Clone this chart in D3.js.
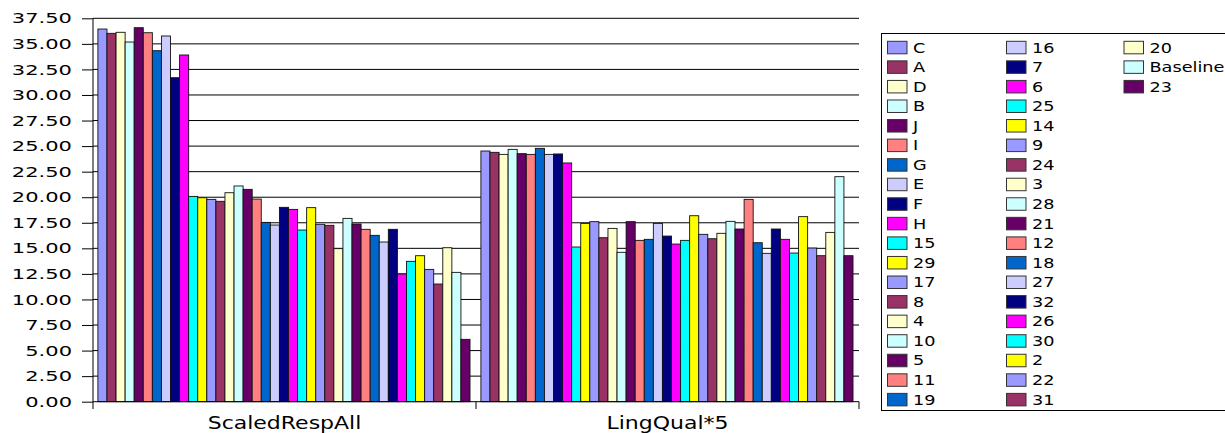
<!DOCTYPE html>
<html>
<head>
<meta charset="utf-8">
<script src="https://cdn.jsdelivr.net/npm/d3@7"></script>
<style>
  html, body { margin: 0; padding: 0; background: #fff; }
  svg { display: block; }
  text { font-family: "DejaVu Sans", Verdana, sans-serif; fill: #000; }
</style>
</head>
<body>
<svg id="chart" width="1225" height="433"></svg>
<script>
// Categories on the x axis
const categories = ["ScaledRespAll", "LingQual*5"];

// One series per system / rater
const seriesNames = [
  "C", "A", "D", "B", "J", "I", "G", "E", "F", "H",
  "15", "29", "17", "8", "4", "10", "5", "11", "19",
  "16", "7", "6", "25", "14", "9", "24", "3", "28", "21",
  "12", "18", "27", "32", "26", "30", "2", "22", "31",
  "20", "Baseline", "23"
];

// Values for the ScaledRespAll category, in series order
const scaledRespAll = [
  36.45, 36.03, 36.13, 35.18, 36.58, 36.09, 34.33, 35.77, 31.69, 33.91,
  20.08, 19.95, 19.79, 19.60, 20.44, 21.10, 20.77, 19.82, 17.54,
  17.28, 19.01, 18.81, 16.79, 18.98, 17.35, 17.25, 14.97, 17.93, 17.38,
  16.86, 16.27, 15.62, 16.86, 12.49, 13.73, 14.28, 12.94, 11.51,
  15.06, 12.65, 6.10
];

// Values for the LingQual*5 category, in series order
const lingQual5 = [
  24.52, 24.39, 24.19, 24.68, 24.26, 24.19, 24.78, 24.19, 24.23, 23.35,
  15.13, 17.44, 17.61, 16.04, 16.95, 14.61, 17.61, 15.78, 15.88,
  17.44, 16.20, 15.42, 15.78, 18.19, 16.37, 15.94, 16.47, 17.64, 16.89,
  19.79, 15.55, 14.51, 16.89, 15.88, 14.54, 18.10, 15.03, 14.28,
  16.56, 22.01, 14.28
];

// Y axis tick values
const yTicks = [0, 2.5, 5, 7.5, 10, 12.5, 15, 17.5, 20, 22.5, 25, 27.5, 30, 32.5, 35, 37.5];

// Fill colours, cycled through the series
const palette = [
  "#9999FF", "#993366", "#FFFFCC", "#CCFFFF", "#660066", "#FF8080",
  "#0066CC", "#CCCCFF", "#000080", "#FF00FF", "#00FFFF", "#FFFF00"
];

const valuesByCategory = [scaledRespAll, lingQual5];
const table = categories.map((c, ci) => ({
  category: c,
  values: seriesNames.map((s, si) => ({ series: s, value: valuesByCategory[ci][si] }))
}));

const svg = d3.select("#chart");
const plot = { left: 93, right: 859, top: 18.3, bottom: 401.7 };

const x0 = d3.scaleBand().domain(categories).range([plot.left, plot.right]).padding(0);
const x1 = d3.scaleBand().domain(seriesNames).range([0, x0.bandwidth()])
  .paddingInner(0).paddingOuter(0.6).align(0.45);
const y = d3.scaleLinear().domain([0, 37.5]).range([plot.bottom, plot.top]);
const color = d3.scaleOrdinal().domain(seriesNames)
  .range(seriesNames.map((s, i) => palette[i % palette.length]));

// Horizontal gridlines
svg.append("g")
  .selectAll("line")
  .data(yTicks.filter(t => t > 0))
  .join("line")
  .attr("x1", plot.left).attr("x2", plot.right)
  .attr("y1", d => y(d)).attr("y2", d => y(d))
  .attr("stroke", "#000").attr("stroke-width", 1);

// Bars
const groups = svg.append("g")
  .selectAll("g")
  .data(table)
  .join("g")
  .attr("transform", d => `translate(${x0(d.category)},0)`);

groups.selectAll("rect")
  .data(d => d.values)
  .join("rect")
  .attr("x", d => x1(d.series))
  .attr("width", x1.bandwidth())
  .attr("y", d => y(d.value))
  .attr("height", d => y(0) - y(d.value))
  .attr("fill", d => color(d.series))
  .attr("stroke", "#111")
  .attr("stroke-width", 0.9);

// Y axis
const yAxis = d3.axisLeft(y)
  .tickValues(yTicks)
  .tickFormat(d3.format(".2f"))
  .tickSize(11)
  .tickPadding(10);
const yg = svg.append("g")
  .attr("transform", `translate(${plot.left},0)`)
  .call(yAxis);
yg.select(".domain").remove();
yg.selectAll(".tick line").attr("stroke", "#000");
yg.selectAll(".tick text")
  .attr("x", 0)
  .attr("font-size", 14.5)
  .attr("transform", "translate(-21,0) scale(1.45,1)")
  .style("font-family", "'DejaVu Sans', sans-serif");
svg.append("line")
  .attr("x1", plot.left).attr("x2", plot.left)
  .attr("y1", plot.top).attr("y2", 409)
  .attr("stroke", "#000");

// X axis baseline and category separators
svg.append("line")
  .attr("x1", plot.left).attr("x2", plot.right)
  .attr("y1", plot.bottom).attr("y2", plot.bottom)
  .attr("stroke", "#000");
const edges = categories.map(c => x0(c)).concat([plot.right]);
svg.append("g").selectAll("line")
  .data(edges.slice(1))
  .join("line")
  .attr("x1", d => d).attr("x2", d => d)
  .attr("y1", plot.bottom).attr("y2", 409)
  .attr("stroke", "#000");

// Category labels
svg.append("g").selectAll("text")
  .data(categories)
  .join("text")
  .attr("transform", d => `translate(${x0(d) + x0.bandwidth() / 2},429) scale(1.31,1)`)
  .attr("text-anchor", "middle")
  .attr("font-size", 16.8)
  .text(d => d);

// Legend
const legend = svg.append("g");
legend.append("rect")
  .attr("x", 881.5).attr("y", 33.5)
  .attr("width", 400).attr("height", 377)
  .attr("fill", "#fff")
  .attr("stroke", "#000").attr("stroke-width", 1);

const rowsPerCol = 19;
const colX = [887, 1006, 1123.5];
const rowY0 = 47.3, rowStep = 19.56;
const items = legend.selectAll("g.item")
  .data(seriesNames)
  .join("g")
  .attr("class", "item")
  .attr("transform", (d, i) =>
    `translate(${colX[Math.floor(i / rowsPerCol)]},${rowY0 + (i % rowsPerCol) * rowStep})`);
items.append("rect")
  .attr("x", 0.5).attr("y", -6)
  .attr("width", 19.5).attr("height", 12.5)
  .attr("fill", d => color(d))
  .attr("stroke", "#333").attr("stroke-width", 1);
items.append("text")
  .attr("transform", "translate(26,5.2) scale(1.22,1)")
  .attr("font-size", 14.5)
  .text(d => d);
</script>
</body>
</html>
